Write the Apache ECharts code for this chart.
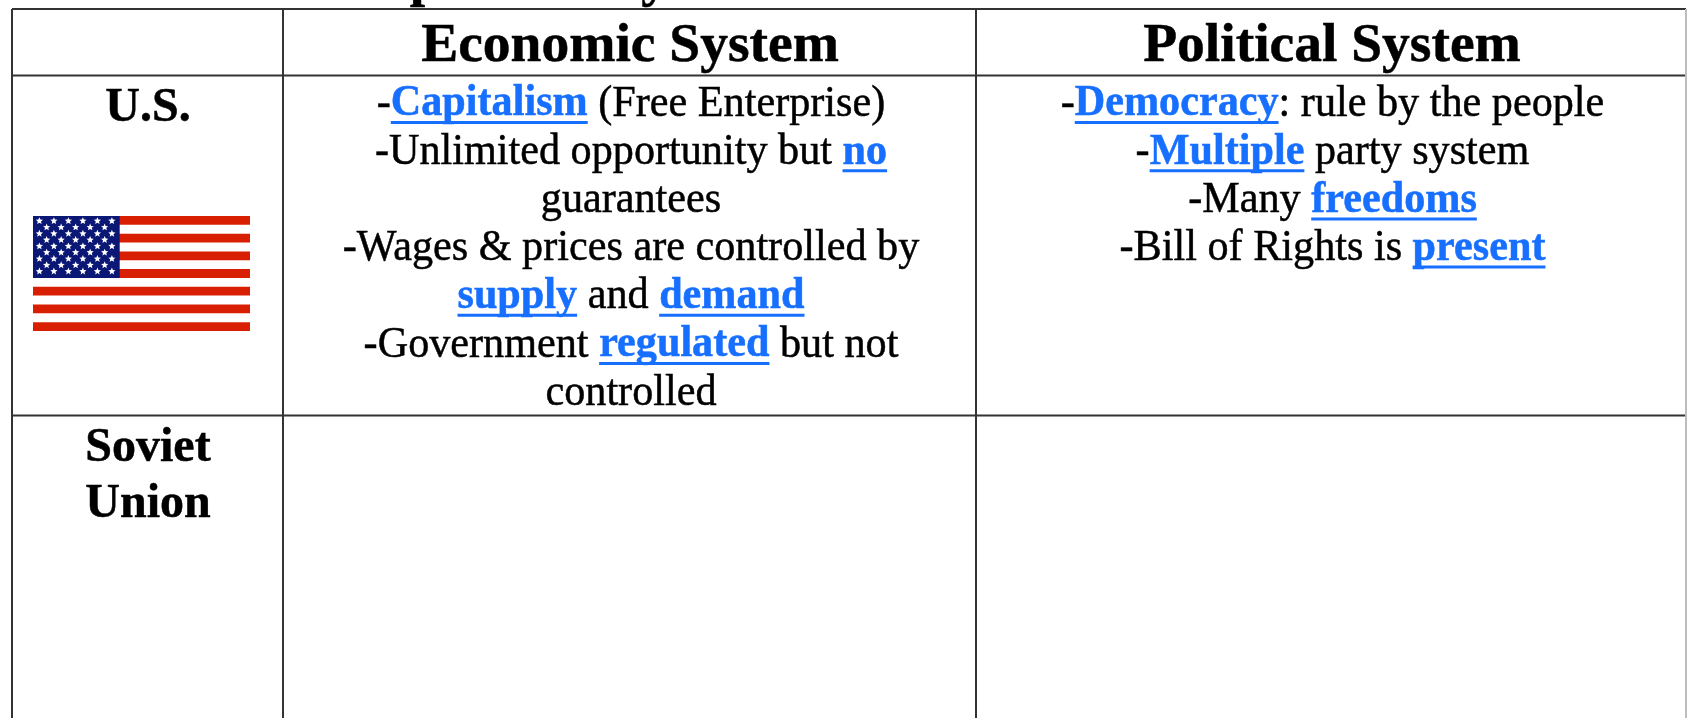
<!DOCTYPE html>
<html>
<head>
<meta charset="utf-8">
<style>
html, body { margin: 0; padding: 0; background: #fff; }
#main { width: 1687px; height: 718px; }
</style>
<script src="https://cdn.jsdelivr.net/npm/echarts@6/dist/echarts.min.js"></script>
</head>
<body>
<div id="main"></div>
<script>
// table text, [text, emphasised]
var columnHeads = ['Economic System', 'Political System'];
var rowHeads = [['U.S.'], ['Soviet', 'Union']];
var economicLines = [
    [['-', 0], ['Capitalism', 1], [' (Free Enterprise)', 0]],
    [['-Unlimited opportunity but ', 0], ['no', 1]],
    [['guarantees', 0]],
    [['-Wages & prices are controlled by', 0]],
    [['supply', 1], [' and ', 0], ['demand', 1]],
    [['-Government ', 0], ['regulated', 1], [' but not', 0]],
    [['controlled', 0]]
];
var politicalLines = [
    [['-', 0], ['Democracy', 1], [': rule by the people', 0]],
    [['-', 0], ['Multiple', 1], [' party system', 0]],
    [['-Many ', 0], ['freedoms', 1]],
    [['-Bill of Rights is ', 0], ['present', 1]]
];
// bits of the cut off title above the table
var titleBits = ['p', 'y'];

// layout
var colX = [12, 283, 976, 1686];
var rowY = [9, 75.5, 415.5, 718];
var SERIF = '"Liberation Serif", "Times New Roman", serif';
var INK = '#000';
var BLUE = '#176fff';
var RULE = '#333';
var BODY_SIZE = 43.5;
var BODY_SQUEEZE = 0.97;
// zrender anchors text at the top of its box, this gets from there to the baseline
var BASELINE = 0.777;

var measure = document.createElement('canvas').getContext('2d');
function textWidth(text, font) {
    measure.font = font;
    return measure.measureText(text).width;
}

var elements = [];

function addText(text, x, y, size, weight, color, align, squeeze) {
    elements.push({
        type: 'text',
        x: x,
        y: y - size * BASELINE,
        scaleX: squeeze || 1,
        style: {
            text: text,
            fill: color,
            stroke: color,
            lineWidth: 0.5, // the reference glyphs are a bit heavier
            font: weight + ' ' + size + 'px ' + SERIF,
            textAlign: align
        }
    });
}

function addRect(x, y, w, h, color) {
    elements.push({
        type: 'rect',
        shape: { x: x, y: y, width: w, height: h },
        style: { fill: color }
    });
}

function addRule(x1, y1, x2, y2, color, width) {
    elements.push({
        type: 'line',
        shape: { x1: x1, y1: y1, x2: x2, y2: y2 },
        style: { stroke: color, lineWidth: width }
    });
}

// one centred line made of normal and bold blue underlined runs
function addLine(runs, cx, baseline) {
    var total = 0;
    var widths = runs.map(function (r) {
        var f = (r[1] ? 'bold ' : 'normal ') + BODY_SIZE + 'px ' + SERIF;
        var w = textWidth(r[0], f) * BODY_SQUEEZE;
        total += w;
        return w;
    });
    var x = cx - total / 2;
    runs.forEach(function (r, i) {
        addText(r[0], x, baseline, BODY_SIZE, r[1] ? 'bold' : 'normal', r[1] ? BLUE : INK, 'left', BODY_SQUEEZE);
        if (r[1]) {
            addRect(x, baseline + 5, widths[i], 3, BLUE);
        }
        x += widths[i];
    });
}

function addFlag(x, y, w, h) {
    var stripe = h / 13;
    var cantonW = 86.7;
    var cantonH = stripe * 7;
    for (var i = 0; i < 13; i += 2) {
        addRect(x, y + i * stripe, w, stripe, '#d81f02');
    }
    addRect(x, y, cantonW, cantonH, '#0a1775');
    for (var r = 0; r < 9; r++) {
        var count = r % 2 ? 5 : 6;
        for (var c = 0; c < count; c++) {
            var pts = [];
            var sx = x + 6.4 + (r % 2 ? 7.25 : 0) + c * 14.5;
            var sy = y + 5 + r * 6.3;
            for (var k = 0; k < 10; k++) {
                var rad = k % 2 ? 1.7 : 3.8;
                var a = -Math.PI / 2 + k * Math.PI / 5;
                pts.push([sx + rad * Math.cos(a), sy + rad * Math.sin(a)]);
            }
            elements.push({ type: 'polygon', shape: { points: pts }, style: { fill: '#fff' } });
        }
    }
}

// grid rules
rowY.slice(0, 3).forEach(function (y) {
    addRule(colX[0], y, colX[3], y, RULE, 2);
});
colX.slice(0, 3).forEach(function (x) {
    addRule(x, rowY[0], x, rowY[3], RULE, 2);
});
addRule(colX[3], rowY[0], colX[3], rowY[3], '#bdbdbd', 2);

// title bits, only the descenders reach the picture
addText(titleBits[0], 425, -4, 55, 'bold', INK, 'center');
addText(titleBits[1], 655, -4, 55, 'bold', INK, 'center');

// heads
addText(columnHeads[0], 630, 62, 55.5, 'bold', INK, 'center');
addText(columnHeads[1], 1332, 62, 55.5, 'bold', INK, 'center');
addText(rowHeads[0][0], 148, 122, 48, 'bold', INK, 'center');
addText(rowHeads[1][0], 148, 462, 48, 'bold', INK, 'center');
addText(rowHeads[1][1], 148, 518, 48, 'bold', INK, 'center');

// cell lines
economicLines.forEach(function (runs, i) {
    addLine(runs, 631, 116 + i * 48.2);
});
politicalLines.forEach(function (runs, i) {
    addLine(runs, 1332.5, 116 + i * 48.2);
});

addFlag(33, 216, 217, 115);

var myChart = echarts.init(document.getElementById('main'));
myChart.setOption({
    backgroundColor: '#fff',
    animation: false,
    graphic: { elements: elements }
});
</script>
</body>
</html>
